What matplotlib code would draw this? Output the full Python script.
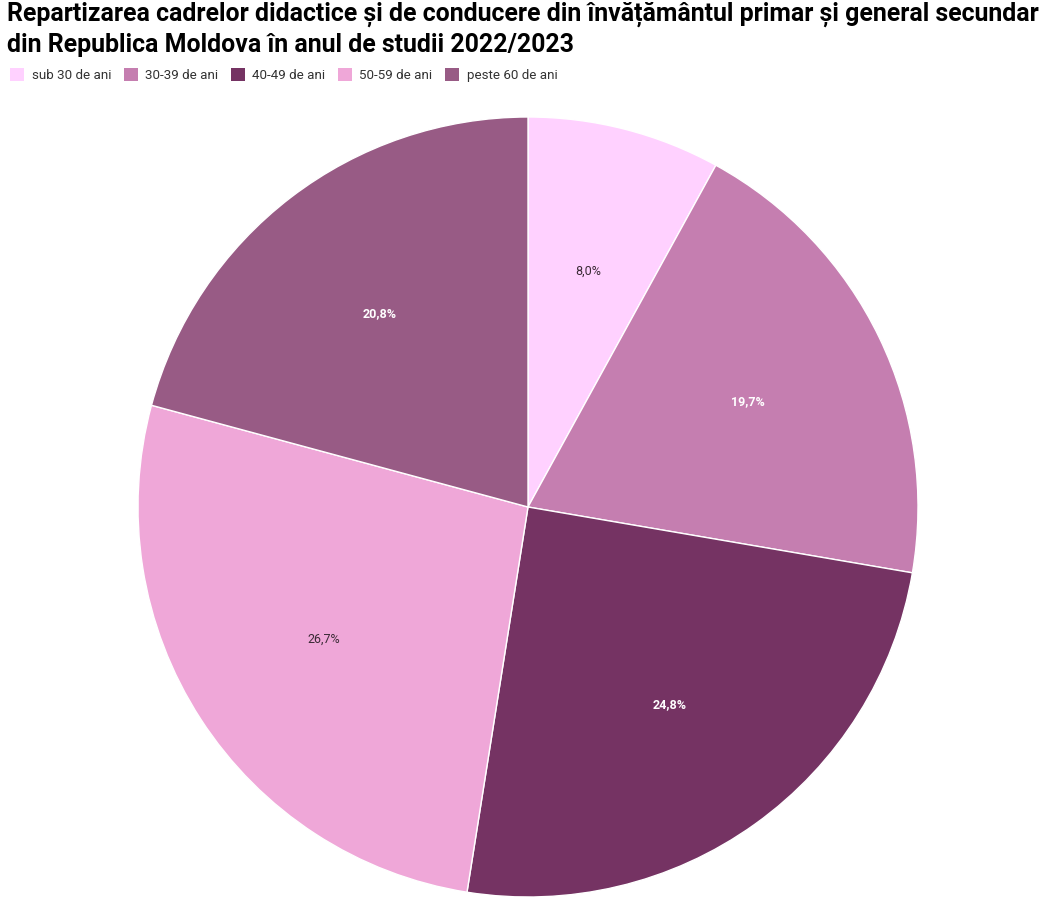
import matplotlib.pyplot as plt
from matplotlib.patches import Patch

plt.rcParams['font.family'] = ['Roboto', 'DejaVu Sans']

# data
categories = ['sub 30 de ani', '30-39 de ani', '40-49 de ani', '50-59 de ani', 'peste 60 de ani']
shares = [8.0, 19.7, 24.8, 26.7, 20.8]
colors = ['#FFD1FF', '#C57EB0', '#753363', '#EFA7D8', '#985B85']
label_colors = ['#3a2a35', 'white', 'white', '#3a2a35', 'white']

W, H = 1053, 913
fig = plt.figure(figsize=(W / 100, H / 100), dpi=100)

cx, cy, r = 528, 507, 390
ax = fig.add_axes([(cx - r) / W, (H - cy - r) / H, 2 * r / W, 2 * r / H])

wedges, texts, autotexts = ax.pie(
    shares, colors=colors, startangle=90, counterclock=False,
    autopct=lambda p: f'{p:.1f}%'.replace('.', ','), pctdistance=0.625,
    wedgeprops=dict(edgecolor='white', linewidth=1),
    textprops=dict(fontsize=9))
for t, c in zip(autotexts, label_colors):
    t.set_color(c)
    if c == 'white':
        t.set_fontweight('bold')
ax.set_xlim(-1, 1)
ax.set_ylim(-1, 1)

fig.text(7 / W, 1 - 2 / H,
         'Repartizarea cadrelor didactice și de conducere din învățământul primar și general secundar\n'
         'din Republica Moldova în anul de studii 2022/2023',
         ha='left', va='top', fontsize=17.9, fontweight='bold', linespacing=1.28)

handles = [Patch(facecolor=c, edgecolor='none') for c in colors]
fig.legend(handles, categories, loc='upper left', bbox_to_anchor=(1 / W, 1 - 59 / H),
           ncol=5, frameon=False, fontsize=9.6, handlelength=1.05, handleheight=1.05,
           handletextpad=0.55, columnspacing=0.95, borderpad=0.2, labelcolor='#333333')

fig.savefig('out.png', dpi=100)
